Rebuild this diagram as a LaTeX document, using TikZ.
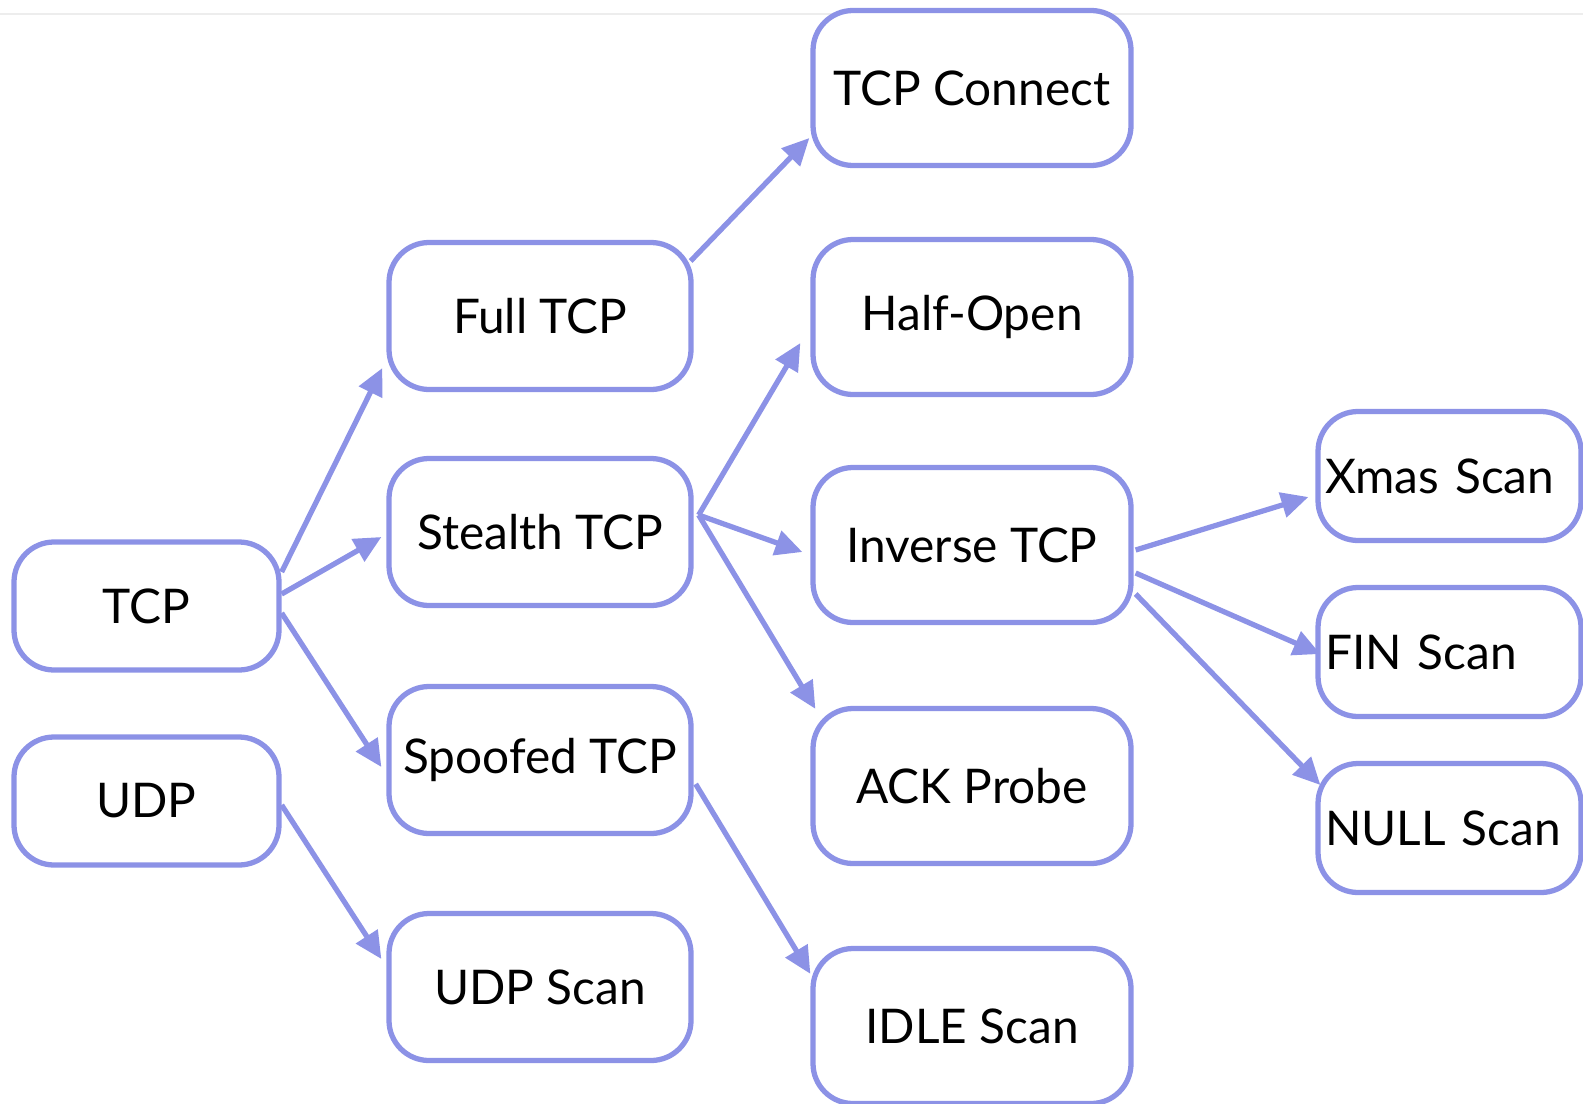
\documentclass[tikz,border=0pt]{standalone}
\usepackage{fontspec}
\setmainfont{Lato}
\usepackage{tikz}
\usetikzlibrary{arrows.meta}
\definecolor{lilac}{RGB}{140,146,230}

\begin{document}
\begin{tikzpicture}[
  box/.style={draw=lilac, line width=1.5pt, rounded corners=0.4cm, fill=white,
    font=\fontsize{13.6}{16}\selectfont, inner sep=0pt},
  small/.style={box, minimum width=2.65cm, minimum height=1.28cm},
  mid/.style={box, minimum width=3.02cm, minimum height=1.47cm},
  big/.style={box, minimum width=3.18cm, minimum height=1.55cm},
  leaf/.style={small, minimum width=2.63cm, minimum height=1.29cm,
    text width=2.49cm, align=left, inner xsep=0.07cm},
  edge/.style={draw=lilac, line width=1.5pt, -{Triangle[length=0.27cm,width=0.25cm]}}
]
\useasboundingbox (0,0) rectangle (15.83,-11.03);
\draw[black!7, line width=0.8pt] (0,-0.14) -- (15.83,-0.14);

\node[small] (tcp) at (1.465,-6.06) {TCP};
\node[small] (udp) at (1.465,-8.01) {UDP};

\node[mid] (full) at (5.40,-3.16) {Full TCP};
\node[mid] (stealth) at (5.40,-5.32) {Stealth TCP};
\node[mid] (spoofed) at (5.40,-7.60) {Spoofed TCP};
\node[mid] (udpscan) at (5.40,-9.87) {UDP Scan};

\node[big] (connect) at (9.72,-0.88) {TCP Connect};
\node[big] (half) at (9.72,-3.17) {Half-Open};
\node[big] (inverse) at (9.72,-5.45) {Inverse TCP};
\node[big] (ack) at (9.72,-7.86) {ACK Probe};
\node[big] (idle) at (9.72,-10.26) {IDLE Scan};

\node[leaf] (xmas) at (14.495,-4.76) {Xmas~Scan};
\node[leaf] (fin) at (14.495,-6.52) {FIN~Scan};
\node[leaf] (null) at (14.495,-8.28) {NULL~Scan};

\draw[edge] ([yshift=0.34cm]tcp.east) -- ([shift={(-0.04,-0.52)}]full.west);
\draw[edge] ([yshift=0.12cm]tcp.east) -- ([shift={(-0.05,-0.05)}]stealth.west);
\draw[edge] ([yshift=-0.07cm]tcp.east) -- ([shift={(-0.05,-0.07)}]spoofed.west);
\draw[edge] ([yshift=-0.04cm]udp.east) -- ([shift={(-0.05,0.28)}]udpscan.west);

\draw[edge] ([shift={(-0.03,0.55)}]full.east) -- ([shift={(-0.01,-0.50)}]connect.west);
\draw[edge] ([shift={(0.05,0.17)}]stealth.east) -- ([shift={(-0.10,-0.26)}]half.west);
\draw[edge] ([shift={(0.05,0.17)}]stealth.east) -- ([shift={(-0.08,-0.07)}]inverse.west);
\draw[edge] ([shift={(0.05,0.17)}]stealth.east) -- ([shift={(0.05,-0.03)}]ack.north west);
\draw[edge] ([shift={(0.02,-0.24)}]spoofed.east) -- ([shift={(0,-0.28)}]idle.north west);

\draw[edge] ([shift={(0.02,-0.05)}]inverse.east) -- ([shift={(-0.07,-0.21)}]xmas.west);
\draw[edge] ([shift={(0.02,-0.28)}]inverse.east) -- ([shift={(0.05,-0.02)}]fin.west);
\draw[edge] ([shift={(0.02,-0.49)}]inverse.east) -- ([shift={(0.05,0.43)}]null.west);
\end{tikzpicture}
\end{document}
